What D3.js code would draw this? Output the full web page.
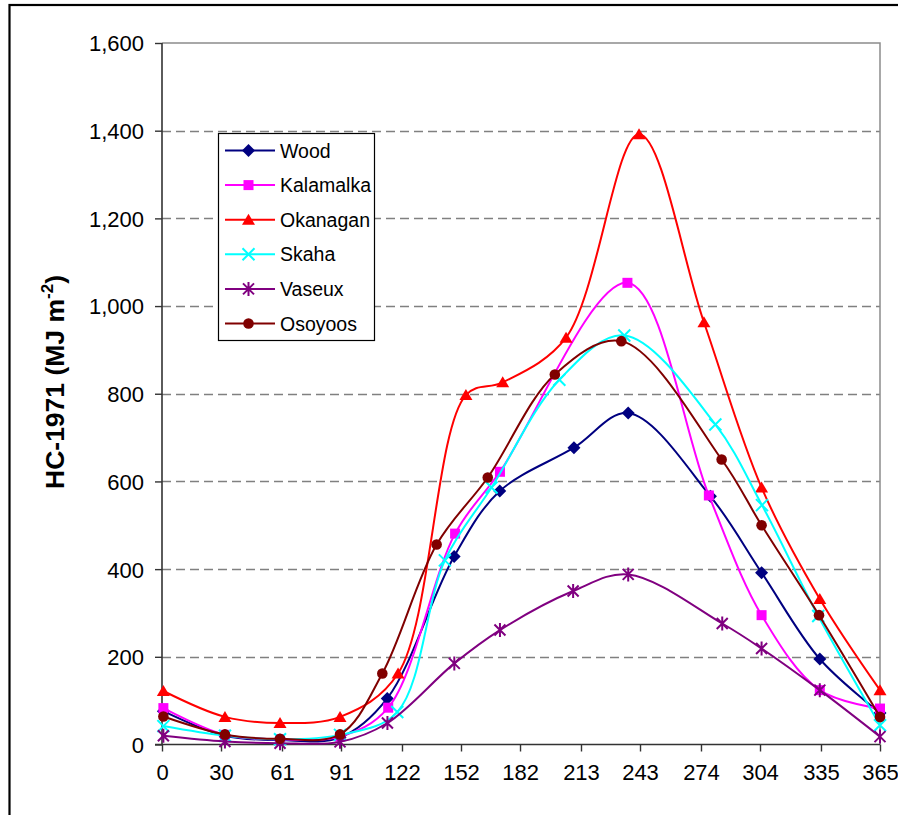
<!DOCTYPE html>
<html>
<head>
<meta charset="utf-8">
<script src="https://cdn.jsdelivr.net/npm/d3@7"></script>
<style>
  html, body { margin: 0; padding: 0; background: #fff; }
  svg { display: block; font-family: "Liberation Sans", Arial, sans-serif; }
</style>
</head>
<body>
<svg id="chart" width="898" height="815"></svg>
<script>
// ---- data (day of year, HC-1971 in MJ m^-2) ----
const seriesNames = ["Wood", "Kalamalka", "Okanagan", "Skaha", "Vaseux", "Osoyoos"];
const seriesColors = ["#000080", "#FF00FF", "#FF0000", "#00FFFF", "#800080", "#800000"];
const seriesMarkers = ["diamond", "square", "triangle", "x", "star", "circle"];

const wood = [[0.7,76],[32,20],[60,10],[90.5,16],[114.5,105],[148.5,429],[171.7,578],[209.4,677],[237,756],[278.8,566],[304.8,392],[334.4,195],[365,72]];
const kalamalka = [[0.7,83],[32,22],[60,12],[90.5,18],[115,84],[149,481],[171.8,622],[236.6,1053],[278,568],[304.8,295],[334.4,124],[365,82]];
const okanagan = [[0.7,122],[32,63],[60,49],[90.5,63],[120,162],[154.5,797],[173.2,826],[205.4,928],[242.5,1392],[275.5,963],[304.8,586],[334.4,332],[365,124]];
const skaha = [[0.7,42],[32,20],[60,12],[90.5,22],[119.6,74],[143.8,420],[167.5,586],[202,832],[235,933],[281.3,730],[305,546],[333.6,293],[365,44]];
const vaseux = [[0.7,20],[32,7],[60,3],[90.5,6],[114.6,49],[148.6,185],[171.8,261],[209,350],[237,388],[284.8,276],[304.8,219],[334.4,124],[365,18]];
const osoyoos = [[0.7,64],[32,23],[60,13],[90.5,23],[112,162],[139.6,456],[165.6,609],[199.7,844],[233.5,920],[284.5,650],[304.8,500],[334,295],[365,63]];
const seriesValues = [wood, kalamalka, okanagan, skaha, vaseux, osoyoos];

const xTicks = [0, 30, 61, 91, 122, 152, 182, 213, 243, 274, 304, 335, 365];
const yTicks = [0, 200, 400, 600, 800, 1000, 1200, 1400, 1600];
const yTitle = "HC-1971 (MJ m";
const yTitleSup = "-2";

// ---- layout ----
const svg = d3.select("#chart");
const L = 162, R = 880, T = 43, B = 744.5;
const x = d3.scaleLinear().domain([0, 365]).range([L, R]);
const y = d3.scaleLinear().domain([0, 1600]).range([B, T]);

// outer chart-area border
svg.append("rect").attr("x", 9.5).attr("y", 5).attr("width", 1000).attr("height", 1000)
  .attr("fill", "none").attr("stroke", "#000").attr("stroke-width", 2.2);

// gridlines
svg.append("g").selectAll("line").data(yTicks.filter(v => v > 0 && v < 1600)).join("line")
  .attr("x1", L).attr("x2", R).attr("y1", d => Math.round(y(d)) + 0.5).attr("y2", d => Math.round(y(d)) + 0.5)
  .attr("stroke", "#808080").attr("stroke-width", 1.3).attr("stroke-dasharray", "9,5");

// plot border top/right
svg.append("path").attr("d", `M${L},${T}H${R}V${B}`).attr("fill", "none")
  .attr("stroke", "#8c8c8c").attr("stroke-width", 1.5);

// y axis
const yAxis = svg.append("g").attr("transform", `translate(${L},0)`)
  .call(d3.axisLeft(y).tickValues(yTicks).tickSize(7).tickPadding(11).tickFormat(d3.format(",")));
// x axis
const xAxis = svg.append("g").attr("transform", `translate(0,${B})`)
  .call(d3.axisBottom(x).tickValues(xTicks).tickSize(7).tickPadding(13).tickFormat(d3.format("d")));

[yAxis, xAxis].forEach(g => {
  g.select(".domain").attr("stroke", "#333").attr("stroke-width", 1.6);
  g.selectAll(".tick line").attr("stroke", "#333").attr("stroke-width", 1.4);
  g.selectAll("text").attr("font-size", 22).attr("fill", "#000")
    .attr("font-family", "'Liberation Sans', Arial, sans-serif");
});
yAxis.select(".domain").attr("d", `M0,${T}V${B}`);
xAxis.select(".domain").attr("d", `M${L - 7},0H${R}`);
yAxis.selectAll(".tick text").attr("dy", "0.36em");
xAxis.selectAll(".tick text").attr("dy", "0.72em");

// y title
const title = svg.append("text").attr("transform", "translate(64,382) rotate(-90)")
  .attr("text-anchor", "middle").attr("font-size", 26.5).attr("font-weight", "bold").attr("fill", "#000");
title.append("tspan").text(yTitle);
title.append("tspan").attr("font-size", 17).attr("dy", -11).text(yTitleSup);
title.append("tspan").attr("dy", 11).text(")");

// marker drawing
function drawMarker(sel, type, color) {
  if (type === "diamond") sel.append("path").attr("d", "M0,-6.5L6.5,0L0,6.5L-6.5,0Z").attr("fill", color);
  else if (type === "square") sel.append("rect").attr("x", -5).attr("y", -5).attr("width", 10).attr("height", 10).attr("fill", color);
  else if (type === "triangle") sel.append("path").attr("d", "M0,-6L6.5,5L-6.5,5Z").attr("fill", color);
  else if (type === "circle") sel.append("circle").attr("r", 5.3).attr("fill", color);
  else if (type === "x") sel.append("path").attr("d", "M-6,-6L6,6M-6,6L6,-6").attr("stroke", color).attr("stroke-width", 2).attr("fill", "none");
  else if (type === "star") sel.append("path").attr("d", "M-5.5,-5.5L5.5,5.5M-5.5,5.5L5.5,-5.5M0,-7V7").attr("stroke", color).attr("stroke-width", 2).attr("fill", "none");
}

const line = d3.line().x(d => x(d[0])).y(d => y(d[1])).curve(d3.curveCatmullRom.alpha(0.5));

seriesValues.forEach((vals, i) => {
  const g = svg.append("g");
  g.append("path").datum(vals).attr("d", line).attr("fill", "none")
    .attr("stroke", seriesColors[i]).attr("stroke-width", 2);
  g.selectAll("g.m").data(vals).join("g").attr("class", "m")
    .attr("transform", d => `translate(${x(d[0])},${y(d[1])})`)
    .each(function () { drawMarker(d3.select(this), seriesMarkers[i], seriesColors[i]); });
});

// legend
const lg = svg.append("g");
lg.append("rect").attr("x", 218.5).attr("y", 133.5).attr("width", 156).attr("height", 207)
  .attr("fill", "#fff").attr("stroke", "#000").attr("stroke-width", 1.2);
seriesNames.forEach((name, i) => {
  const cy = 150.5 + i * 34.6;
  const row = lg.append("g");
  row.append("line").attr("x1", 225).attr("x2", 275).attr("y1", cy).attr("y2", cy)
    .attr("stroke", seriesColors[i]).attr("stroke-width", 2);
  const m = row.append("g").attr("transform", `translate(248.5,${cy})`);
  drawMarker(m, seriesMarkers[i], seriesColors[i]);
  row.append("text").attr("x", 280).attr("y", cy).attr("dy", "0.36em")
    .attr("font-size", 19.5).attr("fill", "#000").text(name);
});
</script>
</body>
</html>
